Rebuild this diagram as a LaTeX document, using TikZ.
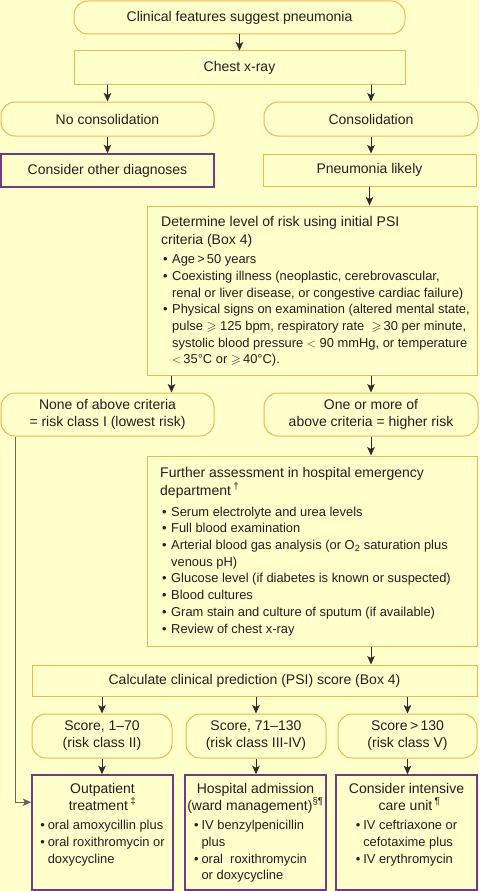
\documentclass[tikz,border=0pt]{standalone}
\usepackage{amssymb}
\usepackage{fontspec}
\setmainfont{Liberation Sans}
\usetikzlibrary{arrows.meta}
\definecolor{bgc}{RGB}{255,255,204}
\definecolor{orb}{RGB}{240,182,80}
\definecolor{pub}{RGB}{118,58,128}
\definecolor{txt}{RGB}{35,31,32}
\definecolor{arc}{RGB}{45,45,45}
\newcommand\bl{\hspace*{2pt}\makebox[9pt][l]{•}}
\newcommand\ct{\hspace*{11pt}}
\newcommand\bp{\makebox[7.5pt][l]{•}}
\newcommand\cp{\hspace*{7.5pt}}
\newcommand\hd{\fontsize{14}{17}\selectfont}
\newcommand\sm{\fontsize{12.9}{16.7}\selectfont}
\begin{document}
\begin{tikzpicture}[x=1pt,y=-1pt,
  obox/.style={draw=orb, line width=1pt, fill=bgc, inner sep=0pt, text=txt, font=\hd, align=center},
  rbox/.style={obox, rounded corners=14pt},
  pbox/.style={draw=pub, line width=1.5pt, fill=bgc, inner sep=0pt},
  para/.style={inner sep=0pt, text=txt, font=\sm},
  arr/.style={draw=arc, line width=1pt, -{Stealth[length=8.5pt,width=7.5pt,inset=2pt]}},
  longarr/.style={arr, draw=black!60}
]
\fill[bgc] (0,0) rectangle (479,891);
\useasboundingbox (0,0) rectangle (479,891);

\node[rbox, minimum width=331pt, minimum height=33pt] (top) at (239.5,17.5) {Clinical features suggest pneumonia};
\node[obox, minimum width=331pt, minimum height=33pt] (cxr) at (239.5,67.5) {Chest x-ray};
\node[rbox, minimum width=213pt, minimum height=34pt] (nocons) at (107.5,119) {No consolidation};
\node[rbox, minimum width=214pt, minimum height=34pt] (cons) at (371,119) {Consolidation};
\node[pbox, minimum width=213pt, minimum height=33pt, text=txt, font=\hd] (other) at (107.5,170.5) {Consider other diagnoses};
\node[obox, minimum width=213pt, minimum height=32pt] (likely) at (369.5,170) {Pneumonia likely};

\node[obox, minimum width=330pt, minimum height=169pt] (psi) at (312,290.5) {};
\node[para, anchor=north west, align=left] (psitext) at (161,216) {%
{\hd Determine level of risk using initial PSI}\\[1pt]
{\hd criteria (Box 4)}\\[3pt]
\bl Age\,>\,50 years\\
\bl Coexisting illness (neoplastic, cerebrovascular,\\
\ct renal or liver disease, or congestive cardiac failure)\\
\bl Physical signs on examination (altered mental state,\\
\ct pulse $\geqslant$ 125 bpm, respiratory rate \ $\geqslant$\,30 per minute,\\
\ct systolic blood pressure $<$ 90 mmHg, or temperature\\
\ct $<$\,35°C or $\geqslant$\,40°C).};

\node[rbox, minimum width=213pt, minimum height=43pt] (none) at (107.5,414.5) {None of above criteria\\= risk class I (lowest risk)};
\node[rbox, minimum width=214pt, minimum height=43pt] (high) at (371,414.5) {One or more of\\above criteria = higher risk};

\node[obox, minimum width=330pt, minimum height=190pt] (fur) at (312,551) {};
\node[para, anchor=north west, align=left] (furtext) at (160,467.5) {%
{\hd Further assessment in hospital emergency}\\[0.6pt]
{\hd department\,\textsuperscript{†}}\\[4.3pt]
\bl Serum electrolyte and urea levels\\
\bl Full blood examination\\
\bl Arterial blood gas analysis (or O\textsubscript{2} saturation plus\\
\ct venous pH)\\
\bl Glucose level (if diabetes is known or suspected)\\
\bl Blood cultures\\
\bl Gram stain and culture of sputum (if available)\\
\bl Review of chest x-ray};

\node[obox, minimum width=445pt, minimum height=31pt] (calc) at (254.5,680.5) {Calculate clinical prediction (PSI) score (Box 4)};

\node[rbox, minimum width=140pt, minimum height=44pt] (s1) at (102,736) {Score, 1–70\\(risk class II)};
\node[rbox, minimum width=140pt, minimum height=44pt] (s2) at (256,736) {Score, 71–130\\(risk class III-IV)};
\node[rbox, minimum width=139pt, minimum height=44pt] (s3) at (407.5,736) {Score\,>\,130\\(risk class V)};

\node[pbox, minimum width=141pt, minimum height=115pt] (o1) at (102.5,832.5) {};
\node[pbox, minimum width=141pt, minimum height=115pt] (o2) at (255.5,832.5) {};
\node[pbox, minimum width=141pt, minimum height=115pt] (o3) at (406.5,832.5) {};

\node[para, anchor=north, align=center] (o1text) at (102.5,783) {%
{\hd Outpatient}\\
{\hd treatment\,\textsuperscript{‡}}\\[3pt]
\begin{tabular}[t]{@{}l@{}}\bp oral amoxycillin plus\\ \bp oral roxithromycin or\\ \cp doxycycline\end{tabular}};
\node[para, anchor=north, align=center] (o2text) at (255.5,783) {%
{\hd Hospital admission}\\
{\hd (ward management)\textsuperscript{§¶}}\\[3pt]
\begin{tabular}[t]{@{}l@{}}\bp IV benzylpenicillin\\ \cp plus\\ \bp oral\ \ roxithromycin\\ \cp or doxycycline\end{tabular}\hspace*{10pt}};
\node[para, anchor=north, align=center] (o3text) at (406.5,783) {%
{\hd Consider intensive}\\
{\hd \hspace*{6pt}care unit\,\textsuperscript{¶}}\\[3pt]
\begin{tabular}[t]{@{}l@{}}\bp IV ceftriaxone or\\ \cp cefotaxime plus\\ \bp IV erythromycin\end{tabular}};

% connectors
\draw[arr] (top.south) -- (cxr.north);
\draw[arr] (cxr.south -| nocons.north) -- (nocons.north);
\draw[arr] (cxr.south -| cons.north) -- (cons.north);
\draw[arr] (nocons.south) -- (other.north);
\draw[arr] (cons.south) -- (cons.south |- likely.north);
\draw[arr] (likely.south) -- (likely.south |- psi.north);
\draw[arr] ([xshift=25pt]psi.south west) -- ([xshift=25pt]psi.south west |- none.north);
\draw[arr] (psi.south -| high.north) -- (high.north);
\draw[arr] (high.south) -- (high.south |- fur.north);
\draw[arr] (fur.south -| high.south) -- (calc.north -| high.south);
\draw[arr] (calc.south -| s1.north) -- (s1.north);
\draw[arr] (calc.south -| s2.north) -- (s2.north);
\draw[arr] (calc.south -| s3.north) -- (s3.north);
\draw[arr] (s1.south) -- (s1.south |- o1.north);
\draw[arr] (s2.south) -- (s2.south |- o2.north);
\draw[arr] (s3.south) -- (s3.south |- o3.north);
\draw[longarr] ([xshift=15pt]none.south west) |- ([yshift=-28pt]o1.north west);
\end{tikzpicture}
\end{document}
